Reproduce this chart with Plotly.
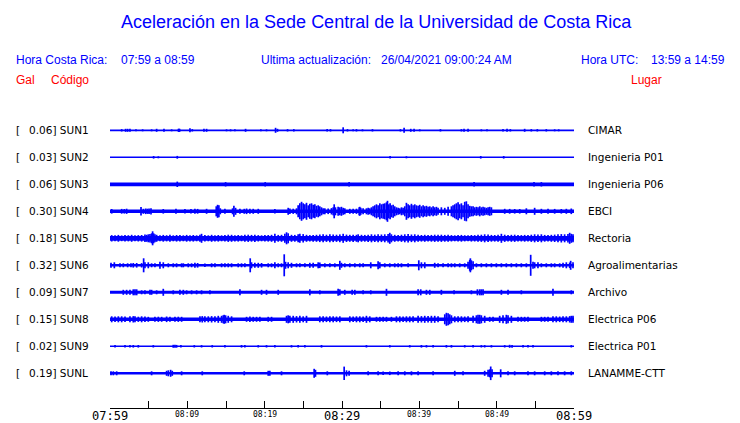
import plotly.graph_objects as go

# ---------------- data ----------------
TIME_RANGE = [0.0, 60.0]                      # minutes after 07:59
TICK_VALS = [0, 5, 10, 15, 20, 25, 30, 35, 40, 45, 50, 55, 60]
TICK_LABELS = ["07:59", "", "08:09", "", "08:19", "", "08:29", "", "08:39", "", "08:49", "", "08:59"]
MAJOR_LABELS = ["07:59", "08:29", "08:59"]

CODES = ["SUN1", "SUN2", "SUN3", "SUN4", "SUN5", "SUN6", "SUN7", "SUN8", "SUN9", "SUNL"]
GAL = ["0.06", "0.03", "0.06", "0.30", "0.18", "0.32", "0.09", "0.15", "0.02", "0.19"]
PLACES = ["CIMAR", "Ingenieria P01", "Ingenieria P06", "EBCI", "Rectoria", "Agroalimentarias",
          "Archivo", "Electrica P06", "Electrica P01", "LANAMME-CTT"]

# background noise half-band of each record (display units)
NOISE = [0.9, 0.75, 1.85, 1.75, 2.4, 1.3, 1.5, 1.8, 0.7, 1.3]

# (minute, half amplitude) of visible peaks of each record
SUN1 = [(1.51,1.2),(2.02,1.5),(2.28,1.5),(2.58,1.5),(3.36,1.0),(4.22,1.0),(5.38,1.0),(6.03,1.5),(6.98,1.5),
        (7.97,1.0),(8.85,1.5),(8.92,1.6),(9.0,1.5),(10.34,2.0),(10.64,1.2),(12.15,1.5),(12.49,1.5),(15.07,1.0),
        (15.59,1.0),(16.15,1.0),(17.53,1.5),(19.51,1.0),(20.24,1.0),(21.41,2.5),(21.66,1.5),(22.96,1.2),
        (23.77,1.2),(28.08,1.2),(28.51,1.2),(30.15,3.0),(30.71,1.2),(31.44,1.0),(31.87,1.2),(32.65,1.0),
        (33.94,1.2),(37.56,1.2),(38.03,2.5),(38.89,1.5),(39.32,1.5),(40.05,1.0),(42.73,1.2),(45.44,1.2),
        (45.78,1.5),(46.30,1.5),(48.02,1.0),(48.75,1.0),(50.82,1.2),(51.34,1.5),(51.77,1.2),(53.62,1.5),
        (54.48,1.2),(55.26,1.2),(56.42,1.2),(57.50,1.0),(58.02,1.0)]
SUN2 = [(5.64,1.3),(6.25,1.0),(8.70,1.4),(36.22,1.2),(38.33,1.0),(47.94,1.3),(50.91,1.3)]
SUN3 = [(8.70,2.7),(14.95,2.2),(20.07,2.2),(30.92,2.2),(47.08,2.2),(54.83,2.2),(55.78,2.2)]
SUN4 = [(0.22,2.3),(1.51,2.4),(1.85,2.3),(2.15,2.6),(4.01,4.2),(4.31,2.5),(4.61,2.8),(4.83,2.6),(5.05,2.8),
        (5.30,3.1),(6.89,2.3),(8.53,2.5),(9.69,2.2),(10.47,2.3),(10.98,2.5),(11.33,2.4),(12.49,2.5),
        (13.74,5.0),(13.91,6.5),(14.08,6.0),(14.26,3.0),(14.86,2.5),(15.85,3.0),(16.02,5.5),(16.24,3.5),
        (16.80,2.5),(17.36,2.5),(17.66,2.8),(18.09,2.5),(18.52,2.5),(19.17,2.5),(21.32,2.2),(23.04,3.5),
        (23.26,2.8),(23.69,2.6),(24.12,3.0),
        (24.33,6.0),(24.55,8.0),(24.77,9.5),(24.98,8.0),(25.20,7.0),(25.41,8.5),(25.63,6.0),(25.84,7.5),
        (26.06,8.0),(26.27,6.5),(26.49,7.0),(26.70,5.5),(26.92,6.0),(27.13,5.0),(27.35,4.0),(27.56,3.0),
        (27.78,3.0),(28.21,2.8),(28.64,3.2),(28.86,4.0),(28.99,7.0),(29.16,4.0),(29.50,4.5),(29.72,4.0),
        (29.93,4.5),(30.15,3.5),(30.36,3.0),(31.01,2.5),(31.44,2.5),(31.87,2.6),(32.22,4.0),(32.30,4.5),
        (32.43,3.5),(32.73,3.0),(33.16,3.0),(33.38,3.5),(33.60,3.0),
        (33.81,4.0),(34.02,5.0),(34.24,6.0),(34.46,7.0),(34.67,6.0),(34.89,8.0),(35.10,7.0),(35.32,7.5),
        (35.53,8.0),(35.75,9.0),(35.88,10.5),(36.05,7.0),(36.22,8.0),(36.39,6.0),(36.61,6.5),(36.82,5.0),
        (37.04,4.0),(37.26,3.5),(37.47,3.0),(37.69,4.0),(37.90,3.5),
        (38.12,5.0),(38.33,8.5),(38.55,7.0),(38.76,6.0),(38.98,7.5),(39.19,6.0),(39.41,7.0),(39.62,6.0),
        (39.84,5.5),(40.05,6.5),(40.27,5.0),(40.49,6.0),(40.70,5.0),(40.92,5.5),(41.13,4.5),(41.35,5.0),
        (41.56,4.0),(41.78,5.0),(41.99,4.0),(42.21,4.5),(42.42,3.5),(42.85,4.0),(43.29,3.5),(43.72,4.5),
        (44.15,5.0),(44.36,6.0),(44.58,7.0),(44.79,8.0),(45.01,9.0),(45.22,7.0),(45.44,8.0),(45.65,6.0),
        (45.87,9.5),(46.08,10.0),(46.30,7.0),(46.52,5.5),(46.73,5.0),(46.95,5.0),(47.16,4.0),(47.38,4.5),
        (47.59,4.0),(47.81,5.0),(48.02,4.0),(48.24,4.5),(48.45,4.0),(48.67,3.5),(48.89,4.0),(49.10,4.5),
        (49.32,4.0),(51.04,2.5),(51.68,2.4),(52.33,2.3),(52.98,2.3),(53.84,3.0),(54.91,3.5),(55.78,2.5),
        (56.64,2.5),(57.50,2.4),(58.36,2.3),(59.01,2.5),(59.65,2.8)]
SUN5 = [(0.22,3.2),(0.65,3.0),(1.08,3.4),(1.51,2.9),(1.94,3.3),(2.37,3.1),(2.80,3.5),(3.23,3.0),(3.66,3.2),
        (4.09,3.3),(4.52,3.8),(4.74,3.5),(4.95,4.0),(5.17,4.2),(5.38,5.0),(5.51,7.0),(5.64,5.0),(5.81,4.0),
        (6.03,3.5),(6.46,3.0),(6.89,3.4),(7.32,3.1),(7.75,3.5),(8.18,3.0),(8.61,3.3),(9.04,3.2),(9.48,3.0),
        (9.91,3.4),(10.34,3.1),(10.77,3.3),(11.20,3.0),(11.63,3.5),(11.84,4.5),(12.27,3.2),(12.71,3.0),
        (13.14,3.5),(13.57,3.1),(14.00,3.3),(14.43,3.0),(14.86,3.2),(15.29,3.6),(15.72,3.5),(16.15,3.1),
        (16.58,3.3),(17.01,3.0),(17.44,3.5),(17.87,3.6),(18.30,3.4),(18.73,3.6),(19.17,3.2),(19.60,3.0),
        (20.03,3.2),(20.46,3.3),(20.89,3.5),(21.32,4.5),(21.75,3.4),(22.18,3.5),(22.61,4.5),(22.83,6.0),
        (23.04,5.0),(23.47,3.5),(23.90,3.4),(24.33,4.0),(24.55,4.5),(24.98,4.2),(25.41,3.5),(25.84,3.2),
        (26.27,3.4),(26.70,3.5),(27.13,3.8),(27.56,4.0),(27.99,3.6),(28.43,4.0),(28.86,3.8),(29.29,3.6),
        (29.72,3.9),(30.15,4.5),(30.58,3.7),(31.01,3.5),(31.44,3.6),(31.87,3.5),(32.09,4.0),(32.52,3.5),
        (32.95,3.4),(33.38,3.6),(33.81,4.0),(34.24,3.7),(34.67,4.0),(35.10,3.8),(35.53,4.0),(35.96,4.2),
        (36.18,5.5),(36.39,4.0),(36.82,3.5),(37.26,3.3),(37.69,3.6),(38.12,4.0),(38.55,4.2),(38.98,3.8),
        (39.41,4.0),(39.84,3.5),(40.27,3.3),(40.70,3.5),(41.13,3.2),(41.56,3.4),(41.99,3.6),(42.42,3.5),
        (42.85,3.6),(43.29,3.4),(43.72,3.5),(44.15,3.2),(44.58,3.0),(45.01,3.2),(45.44,3.4),(45.87,3.1),
        (46.30,3.0),(46.73,3.3),(47.16,3.2),(47.59,3.5),(48.02,3.6),(48.45,4.0),(48.89,3.8),(49.32,3.4),
        (49.75,3.3),(50.18,3.5),(50.61,4.5),(51.04,3.6),(51.47,3.3),(51.90,3.5),(52.33,3.6),(52.76,3.3),
        (53.19,3.2),(53.62,3.4),(54.05,3.3),(54.48,3.6),(54.91,4.0),(55.34,3.8),(55.78,4.0),(56.21,3.4),
        (56.64,3.3),(57.07,3.5),(57.50,3.7),(57.93,4.0),(58.36,4.2),(58.79,4.0),(59.22,4.3),(59.44,5.5),
        (59.65,4.5),(59.87,4.0)]
SUN6 = [(0.13,2.5),(0.56,3.0),(1.29,2.0),(1.72,2.0),(2.28,2.0),(2.71,2.0),(3.01,2.3),(3.45,2.3),(4.09,2.2),
        (4.35,7.0),(4.52,3.0),(4.95,3.0),(5.38,2.0),(5.81,2.0),(6.46,3.5),(6.89,3.0),(7.54,2.0),(8.18,2.0),
        (8.61,2.0),(9.26,2.0),(9.48,2.0),(10.12,2.0),(10.55,2.0),(10.98,2.5),(11.33,2.3),(12.27,1.8),
        (13.14,2.0),(13.57,2.0),(14.43,2.0),(14.86,2.0),(15.29,2.0),(15.72,2.0),(16.58,2.0),(17.01,2.0),
        (17.44,2.0),(18.13,7.0),(18.30,3.0),(18.73,2.5),(19.17,2.5),(19.60,2.3),(20.46,2.0),(20.89,2.0),
        (21.32,3.0),(21.75,2.0),(22.18,2.0),(22.53,11.0),(22.70,3.5),(23.04,3.0),(23.47,2.5),(24.12,2.0),
        (24.55,2.0),(25.20,2.0),(25.84,2.5),(26.27,2.5),(26.92,3.0),(27.13,2.8),(27.78,2.0),(28.43,2.0),
        (29.07,2.0),(29.72,4.5),(29.93,2.5),(30.36,2.0),(31.01,2.0),(31.66,2.0),(32.30,2.0),(32.73,2.0),
        (33.72,3.0),(34.67,4.0),(34.89,3.0),(35.53,2.0),(36.18,2.0),(36.82,2.0),(37.26,2.0),(37.69,2.0),
        (38.55,2.0),(39.93,5.0),(40.27,3.0),(40.70,3.0),(41.99,2.5),(42.42,2.0),(43.07,2.0),(43.72,2.0),
        (44.15,2.0),(44.58,2.0),(45.22,2.0),(45.87,2.0),(46.30,3.5),(46.52,5.5),(46.60,7.0),(46.73,5.0),
        (46.95,4.0),(47.38,2.0),(48.02,2.0),(48.67,2.0),(49.32,2.0),(49.96,2.0),(50.61,2.0),(51.25,2.0),
        (51.90,2.0),(52.55,2.0),(53.19,2.0),(53.84,2.0),(54.40,10.5),(54.70,3.5),(54.91,3.0),(55.34,3.0),
        (55.78,2.0),(56.42,2.0),(57.07,2.0),(57.50,2.0),(58.15,2.0),(58.58,2.5),(59.01,3.0),(59.44,2.8),
        (59.57,4.5),(59.87,3.0)]
SUN7 = [(1.72,2.5),(2.15,2.5),(2.58,2.5),(3.01,3.0),(3.23,3.0),(3.45,3.0),(4.09,2.0),(4.52,2.0),(5.17,2.5),
        (5.38,2.5),(6.03,2.0),(6.89,3.5),(8.18,2.0),(9.04,2.5),(9.48,2.5),(9.91,2.0),(10.55,2.0),(11.20,2.0),
        (11.84,2.0),(12.92,2.0),(16.80,3.0),(19.60,2.5),(20.24,2.5),(21.75,2.5),(25.84,3.0),(27.13,2.0),
        (29.50,3.5),(29.72,3.0),(30.36,2.5),(31.31,2.5),(31.66,2.5),(32.73,2.0),(33.72,2.0),(35.75,3.5),
        (39.84,3.0),(40.18,3.0),(40.92,2.5),(41.35,2.5),(42.85,2.5),(44.49,2.0),(46.73,2.0),(47.51,3.0),
        (47.81,3.0),(48.02,3.0),(48.24,3.0),(50.61,2.5),(51.47,2.5),(53.19,2.0),(57.28,3.5),(59.65,2.0)]
SUN8 = [(0.22,3.0),(0.65,2.8),(1.08,3.0),(1.51,3.0),(1.94,2.8),(2.58,3.0),(3.01,3.2),(3.23,3.0),(3.66,2.6),
        (4.09,3.0),(4.52,2.8),(4.95,2.5),(5.81,2.5),(6.25,2.6),(6.68,2.5),(7.32,2.8),(7.75,2.5),(8.40,2.5),
        (8.83,2.6),(9.26,2.5),(11.63,3.0),(11.93,3.2),(12.27,3.0),(12.71,3.0),(13.14,3.2),(13.57,3.0),
        (14.00,3.5),(14.43,3.5),(14.64,4.0),(14.77,4.5),(14.95,4.0),(15.29,3.5),(15.72,3.0),(17.66,2.5),
        (18.09,2.8),(18.52,2.5),(18.95,2.5),(19.38,2.5),(20.46,2.5),(20.89,2.5),(22.83,3.5),(23.04,4.0),
        (23.26,3.5),(23.69,3.5),(24.12,3.2),(24.55,3.5),(24.98,3.0),(25.41,3.5),(27.13,3.0),(27.56,3.0),
        (27.99,2.8),(28.43,3.0),(28.86,3.0),(29.29,2.8),(29.72,3.0),(31.01,3.0),(31.44,2.8),(31.87,3.0),
        (32.30,3.0),(32.73,2.8),(33.16,3.5),(33.59,3.0),(34.46,2.5),(34.89,2.5),(35.32,2.5),(35.75,2.5),
        (36.39,2.5),(37.04,3.0),(37.47,3.0),(37.90,2.8),(38.33,3.0),(38.76,3.0),(39.19,3.0),(39.84,3.5),
        (40.27,3.2),(40.70,3.5),(41.13,3.2),(41.56,3.5),(41.99,3.5),(42.42,3.0),(43.29,5.0),(43.50,6.5),
        (43.72,6.0),(43.93,5.0),(44.15,4.0),(44.58,3.0),(45.01,3.0),(45.44,3.0),(45.87,2.8),(46.30,3.0),
        (46.95,3.5),(47.38,4.0),(47.59,4.5),(47.81,4.5),(48.02,4.0),(48.45,3.5),(49.10,2.5),(49.53,2.5),
        (50.39,3.5),(50.82,4.0),(51.25,4.5),(51.47,4.0),(51.90,3.5),(52.76,2.5),(53.19,2.5),(53.62,2.5),
        (54.05,2.5),(55.78,2.5),(56.21,2.5),(56.64,2.5),(57.28,3.0),(57.71,3.0),(58.15,2.8),(58.58,3.0),
        (59.01,3.0),(59.44,3.2),(59.65,3.5),(59.87,3.5)]
SUN9 = [(0.65,1.2),(1.94,1.2),(2.58,1.3),(3.01,1.3),(3.66,1.3),(5.60,1.2),(8.18,1.5),(8.40,1.5),(8.61,1.4),
        (9.17,1.3),(10.90,1.2),(11.84,1.2),(13.22,1.2),(14.86,1.2),(17.01,1.3),(17.44,1.3),(19.17,1.2),
        (20.24,1.2),(21.32,1.2),(23.47,1.2),(24.33,1.2),(25.20,1.2),(27.35,1.3),(33.16,1.2),(36.18,1.2),
        (38.76,1.2),(40.27,1.3),(40.92,1.2),(41.78,1.2),(43.50,1.3),(44.15,1.3),(45.87,1.2),(46.95,1.2),
        (48.02,1.2),(48.45,1.2),(49.32,1.2),(51.04,1.2),(51.68,1.5),(51.99,1.4),(53.41,1.2),(54.05,1.2),
        (54.70,1.2),(59.65,1.2)]
SUNL = [(0.13,2.0),(0.43,2.0),(0.86,2.0),(5.38,2.0),(7.32,2.5),(7.54,3.0),(7.84,3.5),(8.05,2.5),(9.26,2.0),
        (11.93,2.0),(17.36,2.0),(20.46,2.5),(20.67,2.5),(22.18,2.0),(26.40,4.5),(26.57,3.5),(28.10,2.0),
        (30.28,6.7),(30.58,3.0),(30.92,2.5),(33.38,2.0),(34.67,2.0),(35.32,1.8),(36.18,1.8),(37.26,2.0),
        (38.12,2.0),(38.98,2.0),(39.84,2.0),(41.78,2.0),(44.58,2.5),(45.65,2.0),(48.45,2.5),(48.89,3.5),
        (49.10,4.0),(49.23,6.8),(49.40,4.0),(50.52,4.0),(51.47,2.0),(52.33,2.0),(54.05,2.0),(54.91,2.0),
        (56.21,2.0),(57.07,2.0),(57.93,2.0),(58.79,2.0),(59.65,2.0)]
RECORDS = [SUN1, SUN2, SUN3, SUN4, SUN5, SUN6, SUN7, SUN8, SUN9, SUNL]

# ---------------- layout / style ----------------
W, H = 740, 423
ML, MR, MT, MB = 110, 166, 100, 15
PW, PH = W - ML - MR, H - MT - MB
ROW_TOP_PX, ROW_STEP = 130.3, 27.0
BLUE = "#0000ff"
RED = "#ff0000"
SANS = "Liberation Sans, Arial, sans-serif"
LABEL_FONT = "DejaVu Sans, sans-serif"
MONO = "DejaVu Sans Mono, monospace"


def paper_x(px):
    return (px - ML) / PW


def paper_y(py):
    return (H - MB - py) / PH


fig = go.Figure()
for i, rec in enumerate(RECORDS):
    c = (H - MB) - (ROW_TOP_PX + ROW_STEP * i)
    fig.add_trace(go.Scatter(x=TIME_RANGE, y=[c, c], mode="lines",
                             line=dict(color=BLUE, width=2 * NOISE[i]),
                             hoverinfo="skip", showlegend=False))
    xs, ys = [], []
    for t, a in rec:
        xs += [t, t, None]
        ys += [c - a, c + a, None]
    fig.add_trace(go.Scatter(x=xs, y=ys, mode="lines", line=dict(color=BLUE, width=1.7),
                             hoverinfo="skip", showlegend=False, connectgaps=False))

ann = []


def txt(s, px, py, color, size, family, anchor="left"):
    ann.append(dict(text=s, x=paper_x(px), y=paper_y(py), xref="paper", yref="paper",
                    xanchor=anchor, yanchor="middle", showarrow=False,
                    font=dict(color=color, size=size, family=family)))


# time-axis labels (two sizes, as in the original)
for v, lab in zip(TICK_VALS, TICK_LABELS):
    if not lab:
        continue
    major = lab in MAJOR_LABELS
    ann.append(dict(text=lab, x=v, xref="x", y=paper_y(415.5 if major else 414.5), yref="paper",
                    xanchor="center", yanchor="middle", showarrow=False,
                    font=dict(family=MONO, size=12 if major else 8, color="black")))

txt("Aceleración en la Sede Central de la Universidad de Costa Rica", 376, 22, BLUE, 18, SANS, "center")
txt("Hora Costa Rica:", 14, 60.5, BLUE, 12, SANS)
txt("07:59 a 08:59", 119, 60.5, BLUE, 12, SANS)
txt("Ultima actualización:", 259, 60.5, BLUE, 12, SANS)
txt("26/04/2021 09:00:24 AM", 379, 60.5, BLUE, 12, SANS)
txt("Hora UTC:", 579, 60.5, BLUE, 12, SANS)
txt("13:59 a 14:59", 649, 60.5, BLUE, 12, SANS)
txt("Gal", 14, 80, RED, 12, SANS)
txt("Código", 49, 80, RED, 12, SANS)
txt("Lugar", 629, 80, RED, 12, SANS)

for i in range(len(CODES)):
    yrow = ROW_TOP_PX + ROW_STEP * i
    txt("[", 14, yrow, "black", 10.5, LABEL_FONT)
    txt(GAL[i] + "] " + CODES[i], 26.5, yrow, "black", 10.5, LABEL_FONT)
    txt(PLACES[i], 586, yrow, "black", 10.5, LABEL_FONT)

fig.update_layout(
    width=W, height=H,
    margin=dict(l=ML, r=MR, t=MT, b=MB, autoexpand=False),
    paper_bgcolor="white", plot_bgcolor="white",
    showlegend=False, hovermode=False,
    annotations=ann,
    xaxis=dict(range=TIME_RANGE, tickmode="array", tickvals=TICK_VALS, showticklabels=False,
               ticks="inside", ticklen=7, tickwidth=1, tickcolor="black",
               showline=True, linecolor="black", linewidth=1, mirror=False,
               showgrid=False, zeroline=False, fixedrange=True),
    yaxis=dict(range=[0, PH], visible=False, showgrid=False, zeroline=False, fixedrange=True),
)

fig.write_html("out.html", config={"displayModeBar": False, "staticPlot": True},
               post_script="document.body.style.margin='0';document.body.style.padding='0';"
                           "document.body.style.overflow='hidden';")
